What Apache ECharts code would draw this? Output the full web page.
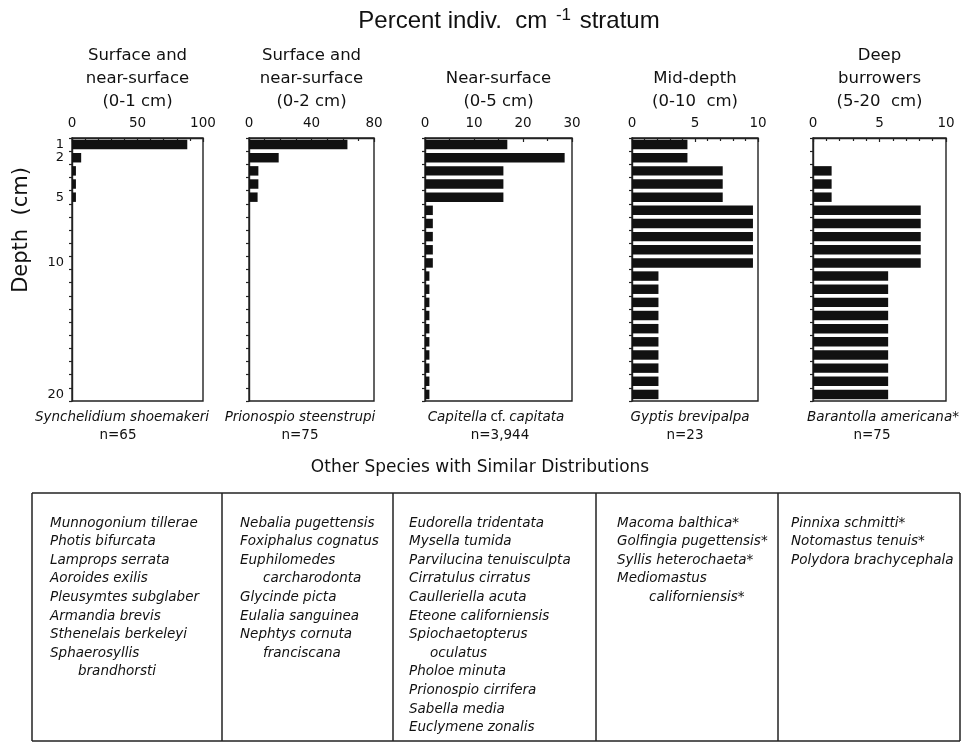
<!DOCTYPE html>
<html>
<head>
<meta charset="utf-8">
<script src="https://cdn.jsdelivr.net/npm/echarts@6/dist/echarts.min.js"></script>
<style>
  html, body { margin: 0; padding: 0; background: #fff; }
  #c { width: 961px; height: 743px; }
</style>
</head>
<body>
<div id="c"></div>
<script>
// Depth strata (1-cm intervals, 1..20 cm)
const depths = ['1','2','3','4','5','6','7','8','9','10','11','12','13','14','15','16','17','18','19','20'];
const labeledDepths = ['1', '2', '5', '10', '20'];

// Percent of individuals per cm of stratum, one array per species
const synchelidium = [88, 7, 3, 3, 3, 0, 0, 0, 0, 0, 0, 0, 0, 0, 0, 0, 0, 0, 0, 0];
const prionospio   = [63, 19, 6, 6, 5.5, 0, 0, 0, 0, 0, 0, 0, 0, 0, 0, 0, 0, 0, 0, 0];
const capitella    = [16.8, 28.5, 16, 16, 16, 1.6, 1.6, 1.6, 1.6, 1.6, 0.9, 0.9, 0.9, 0.9, 0.9, 0.9, 0.9, 0.9, 0.9, 0.9];
const gyptis       = [4.4, 4.4, 7.2, 7.2, 7.2, 9.6, 9.6, 9.6, 9.6, 9.6, 2.1, 2.1, 2.1, 2.1, 2.1, 2.1, 2.1, 2.1, 2.1, 2.1];
const barantolla   = [0, 0, 1.4, 1.4, 1.4, 8.1, 8.1, 8.1, 8.1, 8.1, 5.65, 5.65, 5.65, 5.65, 5.65, 5.65, 5.65, 5.65, 5.65, 5.65];

// Panel headings, species names and sample sizes
const groupTitles = [
  ['Surface and', 'near-surface', '(0-1 cm)'],
  ['Surface and', 'near-surface', '(0-2 cm)'],
  ['Near-surface', '(0-5 cm)'],
  ['Mid-depth', '(0-10  cm)'],
  ['Deep', 'burrowers', '(5-20  cm)']
];
const speciesNames = ['Synchelidium shoemakeri', 'Prionospio steenstrupi', '{i|Capitella} {n|cf.} {i|capitata}', 'Gyptis brevipalpa', 'Barantolla americana*'];
const sampleSizes = ['n=65', 'n=75', 'n=3,944', 'n=23', 'n=75'];

// Percent-axis ranges and tick steps
const xMax = [100, 80, 30, 10, 10];
const xStep = [50, 40, 10, 5, 5];
const xMinorSplit = [5, 4, 2, 5, 5];

// Other species listed under each depth group ('>' marks a wrapped continuation line)
const otherSpecies = [
  ['Munnogonium tillerae', 'Photis bifurcata', 'Lamprops serrata', 'Aoroides exilis', 'Pleusymtes subglaber', 'Armandia brevis', 'Sthenelais berkeleyi', 'Sphaerosyllis', '>brandhorsti'],
  ['Nebalia pugettensis', 'Foxiphalus cognatus', 'Euphilomedes', '>carcharodonta', 'Glycinde picta', 'Eulalia sanguinea', 'Nephtys cornuta', '>franciscana'],
  ['Eudorella tridentata', 'Mysella tumida', 'Parvilucina tenuisculpta', 'Cirratulus cirratus', 'Caulleriella acuta', 'Eteone californiensis', 'Spiochaetopterus', '>oculatus', 'Pholoe minuta', 'Prionospio cirrifera', 'Sabella media', 'Euclymene zonalis'],
  ['Macoma balthica*', 'Golfingia pugettensis*', 'Syllis heterochaeta*', 'Mediomastus', '>californiensis*'],
  ['Pinnixa schmitti*', 'Notomastus tenuis*', 'Polydora brachycephala']
];

const seriesData = [synchelidium, prionospio, capitella, gyptis, barantolla];

// Layout
const FONT = '"Liberation Sans", Arial, Helvetica, sans-serif';
const WIDE = '"DejaVu Sans", Verdana, sans-serif';
const INK = '#111';
const panelLeft = [72, 249, 425, 632, 813];
const panelWidth = [131, 125, 147, 126, 133];
const plotTop = 138, plotHeight = 263;
const nameCenterX = [122, 300, 496, 690, 883];
const nCenterX = [118, 300, 500, 685, 872];
const tableTop = 493, tableBottom = 741;
const tableDividers = [32, 222, 393, 596, 778, 960];
const tableTextX = [50, 240, 409, 617, 791];
const tableIndent = [28, 23, 21, 32, 0];

const grids = [], xAxes = [], yAxes = [], series = [];
seriesData.forEach((vals, i) => {
  grids.push({
    left: panelLeft[i], top: plotTop, width: panelWidth[i], height: plotHeight,
    show: true, borderColor: '#222', borderWidth: 1.4, backgroundColor: 'transparent'
  });
  xAxes.push({
    gridIndex: i, type: 'value', position: 'top',
    min: 0, max: xMax[i], interval: xStep[i],
    axisLine: { show: true, lineStyle: { color: '#222', width: 1.4 } },
    axisTick: { show: true, inside: true, length: 4, lineStyle: { color: '#222', width: 1.2 } },
    minorTick: { show: true, splitNumber: xMinorSplit[i], length: 3, lineStyle: { color: '#222', width: 1.2 } },
    splitLine: { show: false },
    axisLabel: { show: true, showMinLabel: true, showMaxLabel: true, hideOverlap: false, fontFamily: WIDE, fontSize: 13.5, color: INK, margin: 8 }
  });
  yAxes.push({
    gridIndex: i, type: 'category', data: depths, inverse: true,
    axisLine: { show: true, lineStyle: { color: '#222', width: 1.4 } },
    axisTick: { show: true, interval: 0, length: 3, lineStyle: { color: '#222', width: 1.2 } },
    axisLabel: {
      show: i === 0, hideOverlap: false, showMinLabel: true,
      fontFamily: WIDE, fontSize: 13, color: INK, margin: 8,
      interval: (idx, val) => labeledDepths.indexOf(val) >= 0
    }
  });
  series.push({
    type: 'bar', xAxisIndex: i, yAxisIndex: i, data: vals,
    barCategoryGap: '28%', silent: true,
    itemStyle: { color: INK }
  });
});

const graphics = [];
// Overall percent-axis caption
graphics.push({
  type: 'text', x: 509, y: 21,
  style: {
    text: '{a|Percent indiv.  cm }{s|-1}{a| stratum}',
    align: 'center', verticalAlign: 'middle',
    rich: {
      a: { fontFamily: FONT, fontSize: 24, fill: INK },
      s: { fontFamily: FONT, fontSize: 17, fill: INK, verticalAlign: 'top', padding: [0, 2, 12, 2] }
    }
  }
});
// Depth axis caption
graphics.push({
  type: 'text', x: 22, y: 230, rotation: Math.PI / 2,
  style: { text: 'Depth  (cm)', align: 'center', verticalAlign: 'middle', font: '21px ' + WIDE, fill: INK }
});
// Group headings above each panel
groupTitles.forEach((lines, i) => {
  const cx = panelLeft[i] + panelWidth[i] / 2;
  const n = lines.length;
  lines.forEach((t, k) => {
    graphics.push({
      type: 'text', x: cx, y: 102 - (n - 1 - k) * 23,
      style: { text: t, align: 'center', verticalAlign: 'middle', font: '16.5px ' + WIDE, fill: INK }
    });
  });
  // Species name and sample size beneath the panel
  graphics.push({
    type: 'text', x: nameCenterX[i], y: 417,
    style: {
      text: speciesNames[i].indexOf('{') >= 0 ? speciesNames[i] : '{i|' + speciesNames[i] + '}',
      align: 'center', verticalAlign: 'middle',
      rich: {
        i: { fontFamily: WIDE, fontSize: 13.5, fontStyle: 'italic', fill: INK },
        n: { fontFamily: WIDE, fontSize: 13.5, fill: INK }
      }
    }
  });
  graphics.push({
    type: 'text', x: nCenterX[i], y: 435,
    style: { text: sampleSizes[i], align: 'center', verticalAlign: 'middle', font: '13.5px ' + WIDE, fill: INK }
  });
});
// Table of species with similar distributions
graphics.push({
  type: 'text', x: 480, y: 468,
  style: { text: 'Other Species with Similar Distributions', align: 'center', verticalAlign: 'middle', font: '17px ' + WIDE, fill: INK }
});
graphics.push({
  type: 'line', shape: { x1: tableDividers[0], y1: tableTop, x2: tableDividers[5], y2: tableTop },
  style: { stroke: '#222', lineWidth: 1.5 }
});
graphics.push({
  type: 'line', shape: { x1: tableDividers[0], y1: tableBottom, x2: tableDividers[5], y2: tableBottom },
  style: { stroke: '#222', lineWidth: 1.5 }
});
tableDividers.forEach(x => {
  graphics.push({
    type: 'line', shape: { x1: x, y1: tableTop, x2: x, y2: tableBottom },
    style: { stroke: '#222', lineWidth: 1.5 }
  });
});
otherSpecies.forEach((col, i) => {
  col.forEach((name, k) => {
    const cont = name.charAt(0) === '>';
    graphics.push({
      type: 'text', x: tableTextX[i] + (cont ? tableIndent[i] : 0), y: 523 + k * 18.6,
      style: {
        text: cont ? name.slice(1) : name, align: 'left', verticalAlign: 'middle',
        font: 'italic 13.5px ' + WIDE, fill: INK
      }
    });
  });
});

const chart = echarts.init(document.getElementById('c'), null, { renderer: 'canvas' });
chart.setOption({
  animation: false,
  backgroundColor: '#fff',
  grid: grids,
  xAxis: xAxes,
  yAxis: yAxes,
  series: series,
  graphic: graphics
});
</script>
</body>
</html>
